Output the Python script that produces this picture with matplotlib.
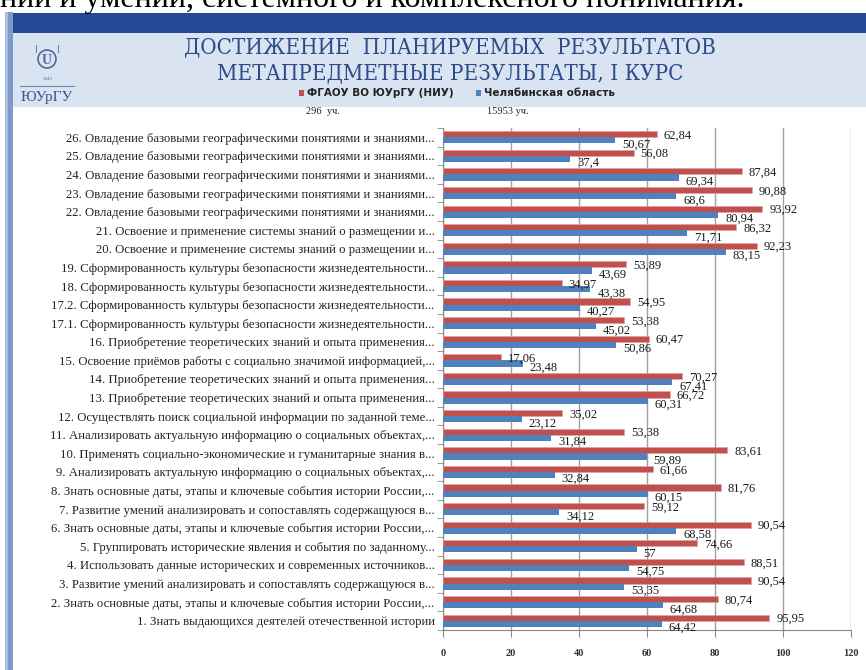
import matplotlib
matplotlib.use('Agg')
import matplotlib.pyplot as plt
from matplotlib.patches import Rectangle, Circle
import matplotlib.font_manager as fm
import numpy as np

# Категории снизу вверх (как в Excel)
categories = [
    "1. Знать выдающихся деятелей отечественной истории",
    "2. Знать основные даты, этапы и ключевые события истории России,...",
    "3. Развитие умений анализировать и сопоставлять содержащуюся в...",
    "4. Использовать данные исторических и современных источников...",
    "5. Группировать исторические явления и события по заданному...",
    "6. Знать основные даты, этапы и ключевые события истории России,...",
    "7. Развитие умений анализировать и сопоставлять содержащуюся в...",
    "8. Знать основные даты, этапы и ключевые события истории России,...",
    "9. Анализировать актуальную информацию о социальных объектах,...",
    "10. Применять социально-экономические и гуманитарные знания в...",
    "11. Анализировать актуальную информацию о социальных объектах,...",
    "12. Осуществлять поиск социальной информации по заданной теме...",
    "13. Приобретение теоретических знаний и опыта применения...",
    "14. Приобретение теоретических знаний и опыта применения...",
    "15. Освоение приёмов работы с социально значимой информацией,...",
    "16. Приобретение теоретических знаний и опыта применения...",
    "17.1. Сформированность культуры безопасности жизнедеятельности...",
    "17.2. Сформированность культуры безопасности жизнедеятельности...",
    "18. Сформированность культуры безопасности жизнедеятельности...",
    "19. Сформированность культуры безопасности жизнедеятельности...",
    "20. Освоение и применение системы знаний о размещении и...",
    "21. Освоение и применение системы знаний о размещении и...",
    "22. Овладение базовыми географическими понятиями и знаниями...",
    "23. Овладение базовыми географическими понятиями и знаниями...",
    "24. Овладение базовыми географическими понятиями и знаниями...",
    "25. Овладение базовыми географическими понятиями и знаниями...",
    "26. Овладение базовыми географическими понятиями и знаниями...",
]
susu = [95.95, 80.74, 90.54, 88.51, 74.66, 90.54, 59.12, 81.76, 61.66, 83.61,
        53.38, 35.02, 66.72, 70.27, 17.06, 60.47, 53.38, 54.95, 34.97, 53.89,
        92.23, 86.32, 93.92, 90.88, 87.84, 56.08, 62.84]
region = [64.42, 64.68, 53.35, 54.75, 57, 68.58, 34.12, 60.15, 32.84, 59.89,
          31.84, 23.12, 60.31, 67.41, 23.48, 50.86, 45.02, 40.27, 43.38, 43.69,
          83.15, 71.71, 80.94, 68.6, 69.34, 37.4, 50.67]
series_names = ["ФГАОУ ВО ЮУрГУ (НИУ)", "Челябинская область"]
participants = ["296  уч.", "15953 уч."]
x_ticks = [0, 20, 40, 60, 80, 100, 120]

RED = '#c0504d'
BLUE = '#4f81bd'
TITLE = '#2b4c87'

# узкий шрифт для заголовка, если он есть
cond = [f for f in fm.fontManager.ttflist
        if f.name == 'DejaVu Serif' and f.stretch == 'condensed' and f.weight == 400
        and f.style == 'normal']
title_kw = dict(family='DejaVu Serif', fontstretch='condensed', fontsize=16) if cond \
    else dict(family='Liberation Serif', fontsize=17)

W, H = 866, 670
fig = plt.figure(figsize=(W / 100, H / 100), dpi=100)
fig.patch.set_facecolor('white')


def fx(px):
    return px / W


def fy(py):
    return 1 - py / H


# фон слайда
bg = fig.add_axes([0, 0, 1, 1])
bg.set_xlim(0, W)
bg.set_ylim(H, 0)
bg.axis('off')
bg.add_patch(Rectangle((13, 13), W - 13, 20, color='#264796', lw=0))
bg.add_patch(Rectangle((13, 33), W - 13, 74, color='#dae3f1', lw=0))
bg.add_patch(Rectangle((5, 12), 8, H - 12, color='#7d9acb', lw=0))
bg.add_patch(Rectangle((5, 12), 3, H - 12, color='#a9bde0', lw=0))

# обрезанная строка текста сверху
fig.text(fx(0), fy(7), "ний и умений, системного и комплексного понимания.",
         fontsize=23, family='Liberation Serif', color='black', va='baseline')

# логотип (упрощённо)
bg.add_patch(Circle((47, 59), 9, fill=False, ec='#52689a', lw=1.2))
bg.text(47, 60, "U", fontsize=10, color='#52689a', ha='center', va='center',
        family='Liberation Serif', weight='bold')
bg.plot([36, 36], [45, 52], color='#7185ad', lw=0.8)
bg.plot([58, 58], [45, 52], color='#7185ad', lw=0.8)
bg.text(47, 79, "1943", fontsize=3.5, color='#52689a', ha='center', va='center',
        family='Liberation Serif')
bg.plot([20, 74], [86, 86], color='#7185ad', lw=0.8)
bg.text(47, 98, "ЮУрГУ", fontsize=11, color='#3a5590', ha='center', va='center',
        family='Liberation Serif')

# заголовок
bg.text(450, 47, "ДОСТИЖЕНИЕ  ПЛАНИРУЕМЫХ  РЕЗУЛЬТАТОВ", color=TITLE,
        ha='center', va='center', **title_kw)
bg.text(450, 73, "МЕТАПРЕДМЕТНЫЕ РЕЗУЛЬТАТЫ, I КУРС", color=TITLE,
        ha='center', va='center', **title_kw)

# легенда
for px, name, col, cnt, cx in [(299, series_names[0], RED, participants[0], 306),
                               (476, series_names[1], BLUE, participants[1], 487)]:
    bg.add_patch(Rectangle((px, 90), 5, 6, color=col, lw=0))
    bg.text(px + 8, 93, name, fontsize=7.5, family='Liberation Sans Narrow',
            weight='bold', color='#222222', va='center')
    bg.text(cx, 111, cnt, fontsize=7.5, family='Liberation Serif',
            color='#222222', va='center')

# диаграмма
ax = fig.add_axes([fx(443), fy(630), fx(851) - fx(443), fy(128) - fy(630)])
y = np.arange(len(categories))
h = 0.33
ax.barh(y + h / 2, susu, height=h, color=RED, edgecolor='#e4a09e', lw=0.4, zorder=3)
ax.barh(y - h / 2, region, height=h, color=BLUE, lw=0, zorder=3)

for yi, v in zip(y + h / 2, susu):
    ax.annotate(f"{v:g}".replace('.', ','), (v, yi), xytext=(5, -1),
                textcoords='offset points', va='center', ha='left',
                fontsize=9, family='Liberation Serif', color='#1a1a1a', zorder=4)
for yi, v in zip(y - h / 2, region):
    ax.annotate(f"{v:g}".replace('.', ','), (v, yi), xytext=(5, -3),
                textcoords='offset points', va='center', ha='left',
                fontsize=9, family='Liberation Serif', color='#1a1a1a', zorder=4)

ax.set_xlim(0, 120)
ax.set_ylim(-0.5, len(categories) - 0.5)
ax.set_xticks(x_ticks)
ax.set_xticklabels([str(t) for t in x_ticks], fontsize=7.5, family='Liberation Serif',
                   weight='bold', color='#333333')
ax.set_yticks(y)
ax.set_yticklabels(categories, fontsize=9.2, family='Liberation Serif', color='#222222')
ax.set_yticks(np.arange(-0.5, len(categories), 1), minor=True)
ax.tick_params(axis='y', which='major', length=0, pad=6)
ax.tick_params(axis='y', which='minor', length=4, color='#888888', direction='out')
ax.tick_params(axis='x', length=5, color='#888888', direction='out', pad=9)
ax.grid(axis='x', color='#a0a0a0', lw=1, zorder=0)
for s in ['top', 'right']:
    ax.spines[s].set_visible(False)
ax.spines['left'].set_color('#888888')
ax.spines['bottom'].set_color('#888888')
ax.set_facecolor('white')

plt.savefig('out.png', dpi=100)
